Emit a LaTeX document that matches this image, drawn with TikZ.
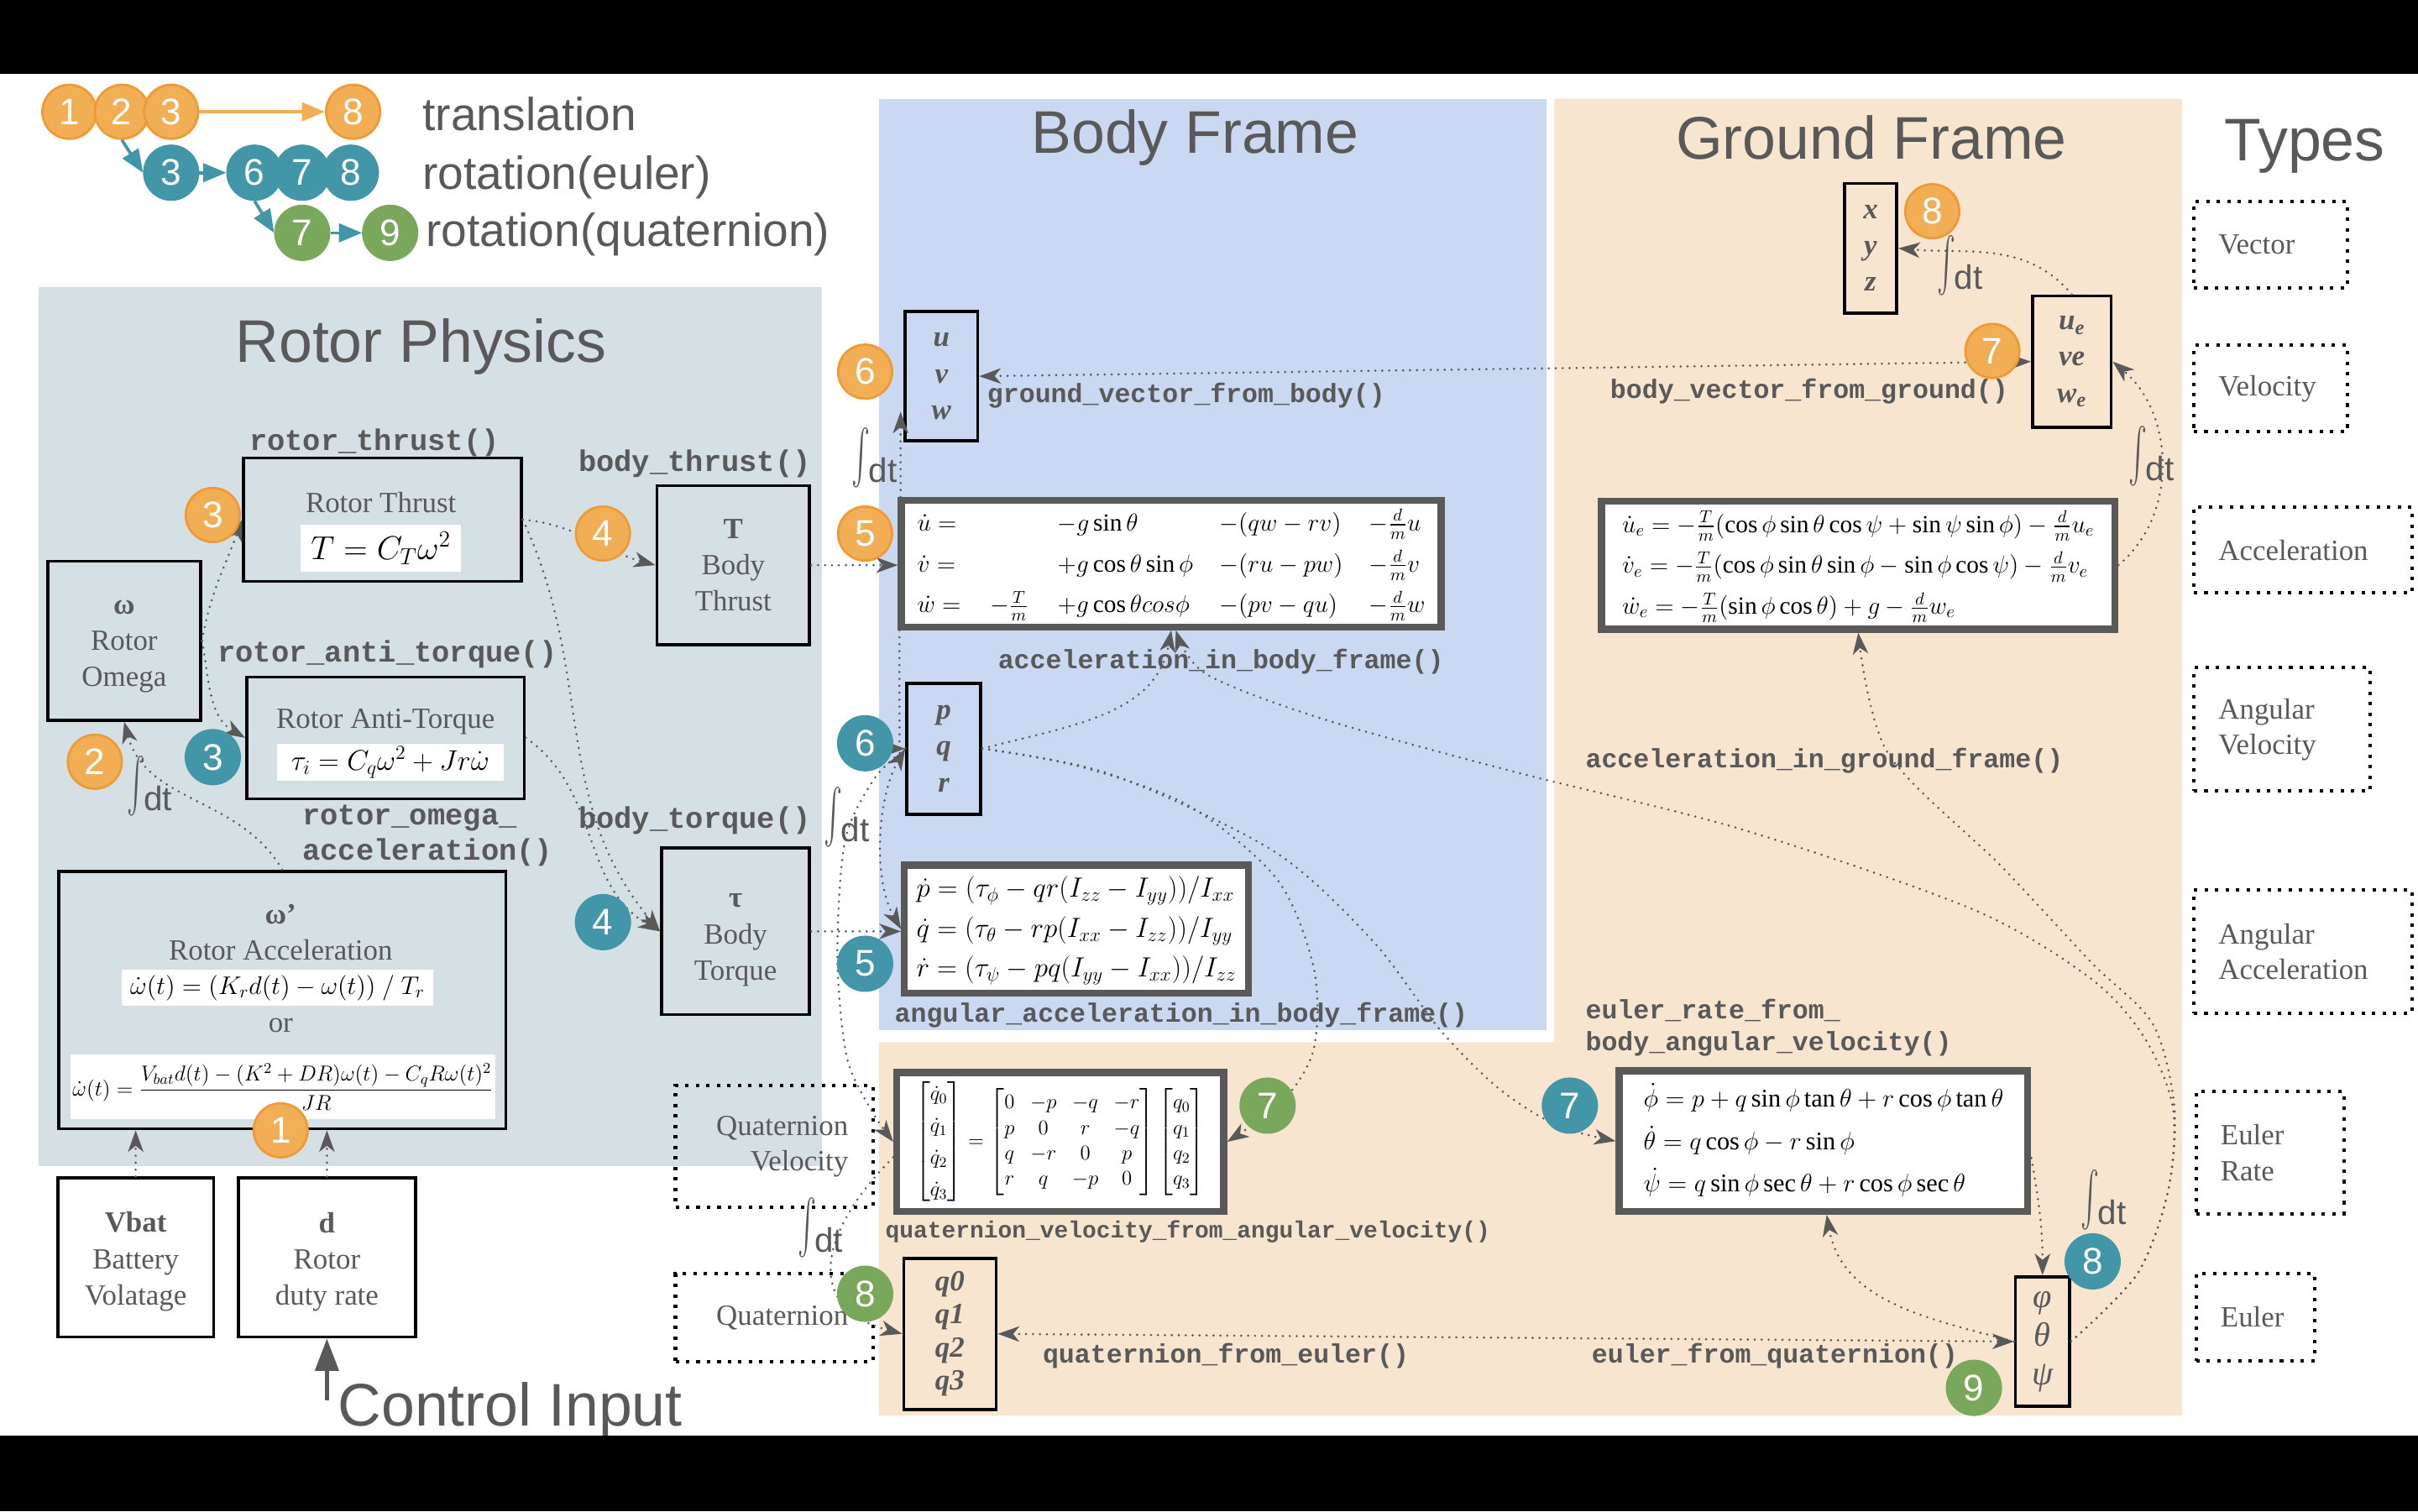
\RequirePackage{fix-cm}
\documentclass[tikz,border=0pt]{standalone}
\usepackage{amsmath}
\usepackage{fontspec}
\setmainfont{Liberation Serif}
\setsansfont{Liberation Sans}
\setmonofont{Liberation Mono}
\usetikzlibrary{arrows.meta}

\definecolor{txtgray}{HTML}{595959}
\definecolor{rotorbg}{HTML}{D5E0E4}
\definecolor{bodybg}{HTML}{CAD8F2}
\definecolor{groundbg}{HTML}{F8E5D0}
\definecolor{stepor}{HTML}{F2AE55}
\definecolor{stepordk}{HTML}{EE9A35}
\definecolor{steptl}{HTML}{4396A8}
\definecolor{stepgr}{HTML}{79A75B}

\newcommand{\intdt}{\raisebox{6.5pt}{\resizebox*{12pt}{39pt}{$\int$}}\kern-1pt dt}

\tikzset{
  title/.style={text=txtgray, font=\sffamily\fontsize{39}{44}\selectfont, anchor=base, inner sep=0},
  legendtxt/.style={text=txtgray, font=\sffamily\fontsize{30}{34}\selectfont, anchor=base west, inner sep=0},
  numo/.style={circle, minimum size=35pt, inner sep=0, fill=stepor, draw=stepordk, line width=1.5pt,
    text=white, font=\sffamily\fontsize{24}{24}\selectfont},
  numt/.style={numo, fill=steptl, draw=steptl},
  numg/.style={numo, fill=stepgr, draw=stepgr},
  blk/.style={draw=black, line width=2pt, text=txtgray, align=center, inner sep=0,
    font=\fontsize{19}{23.5}\selectfont},
  vecbox/.style={blk, font=\bfseries\itshape\fontsize{19}{23.5}\selectfont},
  eqbox/.style={draw=txtgray, line width=4.5pt, fill=white, inner sep=0},
  whiteeq/.style={fill=white, inner sep=0},
  srf/.style={text=txtgray, inner sep=0, font=\fontsize{19}{23}\selectfont},
  fn/.style={text=txtgray, anchor=base west, inner sep=0, font=\ttfamily\bfseries\fontsize{17.2}{20}\selectfont},
  fnbig/.style={fn, font=\ttfamily\bfseries\fontsize{19.3}{22}\selectfont},
  fnsmall/.style={fn, font=\ttfamily\bfseries\fontsize{15.2}{18}\selectfont},
  intg/.style={text=txtgray, inner sep=0, font=\sffamily\fontsize{22}{22}\selectfont},
  typebox/.style={draw=black, line width=2.2pt, dash pattern=on 2.2pt off 4.6pt, inner xsep=16pt,
    inner ysep=0, text=txtgray, font=\fontsize{19}{23}\selectfont},
  flow/.style={draw=txtgray, line width=1.6pt, dash pattern=on 0pt off 4.5pt, line cap=round,
    -{Stealth[length=14pt,width=10pt,inset=4pt]}},
  flowboth/.style={flow, {Stealth[length=14pt,width=10pt,inset=4pt]}-{Stealth[length=14pt,width=10pt,inset=4pt]}},
  legarrow/.style={line width=2pt, -{Triangle[length=15pt,width=12pt]}},
}

\begin{document}
\begin{tikzpicture}[x=1pt,y=-1pt]
  \useasboundingbox (0,0) rectangle (1568,980);
  \fill[white] (0,0) rectangle (1568,980);

  % panels
  \fill[rotorbg] (25,186) rectangle (533,756);
  \fill[bodybg] (570,64) rectangle (1003,668);
  \fill[groundbg] (1008,64) -- (1415,64) -- (1415,918) -- (570,918) -- (570,676) -- (1008,676) -- cycle;

  \node[title] (ttlrotor) at (273,235) {Rotor Physics};
  \node[title] (ttlbody) at (775,99.4) {Body Frame};
  \node[title] (ttlground) at (1213.5,103) {Ground Frame};
  \node[title] (ttltypes) at (1494.5,104) {Types};

  % legend
  \node[numo] (l1) at (45,72.5) {1};
  \node[numo] (l2) at (79,72.5) {2};
  \node[numo] (l3) at (111,72.5) {3};
  \node[numo] (l8) at (229,72.5) {8};
  \node[numt] (lt3) at (111,112) {3};
  \node[numt] (lt6) at (165,112) {6};
  \node[numt] (lt7) at (196,112) {7};
  \node[numt] (lt8) at (227.5,112) {8};
  \node[numg] (lg7) at (196,151) {7};
  \node[numg] (lg9) at (253,151) {9};
  \draw[legarrow, stepor] (l3) -- (l8);
  \draw[legarrow, steptl] (l2.south) -- (lt3.west);
  \draw[legarrow, steptl] (lt3) -- (lt6);
  \draw[legarrow, steptl] (lt6.south) -- (lg7.west);
  \draw[legarrow, steptl] (lg7) -- (lg9);
  \node[legendtxt] (lgtrans) at (274,84.4) {translation};
  \node[legendtxt] (lgeuler) at (274,122.5) {rotation(euler)};
  \node[legendtxt] (lgquat) at (276,159.6) {rotation(quaternion)};

  % types
  \node[typebox, minimum width=99.4pt, minimum height=56.3pt, text width=67.4pt, align=left] (tyvec) at (1472.3,158.7) {Vector};
  \node[typebox, minimum width=99.4pt, minimum height=56pt, text width=67.4pt, align=left] (tyvel) at (1472.3,252) {Velocity};
  \node[typebox, minimum width=141.4pt, minimum height=55.5pt, text width=109.4pt, align=left] (tyacc) at (1493.3,356.7) {Acceleration};
  \node[typebox, minimum width=114.4pt, minimum height=80pt, text width=82.4pt, align=left] (tyangv) at (1479.8,473) {Angular\\Velocity};
  \node[typebox, minimum width=141.4pt, minimum height=80pt, text width=109.4pt, align=left] (tyanga) at (1493.3,617) {Angular\\Acceleration};
  \node[typebox, minimum width=96pt, minimum height=79pt, text width=64pt, align=left] (tyeulr) at (1472,747.5) {Euler\\Rate};
  \node[typebox, minimum width=77pt, minimum height=56.5pt, text width=45pt, align=left] (tyeul) at (1462.5,854.2) {Euler};
  \node[typebox, minimum width=128pt, minimum height=79pt, text width=96pt, align=right] (tyqv) at (502,743.5) {Quaternion\\Velocity};
  \node[typebox, minimum width=128pt, minimum height=57pt, text width=96pt, align=right] (tyq) at (502,854.5) {Quaternion};

  % rotor physics
  \node[fnbig] (fthrust) at (161.5,292) {rotor\_thrust()};
  \node[blk, minimum width=180pt, minimum height=80pt] (thrust) at (248,337) {};
  \node[srf] (thrustlbl) at (247,326) {Rotor Thrust};
  \node[whiteeq, minimum width=104pt, minimum height=31pt, font=\fontsize{21.5}{24}\selectfont] (thrusteq) at (247,355.5) {$T = C_T\omega^2$};

  \node[blk, minimum width=99pt, minimum height=103pt] (omega) at (80.5,415.5) {\rule{0pt}{16.5pt}\textbf{ω}\\Rotor\\Omega};

  \node[fnbig] (fanti) at (141,429.4) {rotor\_anti\_torque()};
  \node[blk, minimum width=180pt, minimum height=79pt] (anti) at (250,478.5) {};
  \node[srf] (antilbl) at (250,468) {Rotor Anti-Torque};
  \node[whiteeq, minimum width=147pt, minimum height=24pt, font=\fontsize{18.5}{22}\selectfont] (antieq) at (253,494.5) {$\tau_i = C_q\omega^2 + Jr\dot\omega$};

  \node[fnbig] (fomacca) at (196,535) {rotor\_omega\_};
  \node[fnbig] (fomaccb) at (196,558) {acceleration()};
  \node[blk, minimum width=290pt, minimum height=167pt] (accbox) at (183,648.5) {};
  \node[srf, font=\bfseries\fontsize{19}{23}\selectfont] (accsym) at (182,593) {ω’};
  \node[srf] (acclbl) at (182,616) {Rotor Acceleration};
  \node[whiteeq, minimum width=202pt, minimum height=23pt, font=\fontsize{16.5}{20}\selectfont] (acceqa) at (180,640.5) {$\dot\omega(t) = (K_r d(t) - \omega(t))\ /\ T_r$};
  \node[srf] (accor) at (182,665) {or};
  \node[whiteeq, minimum width=275pt, minimum height=42pt, font=\fontsize{14}{17}\selectfont] (acceqb) at (183.5,705) {$\dot\omega(t) = \dfrac{V_{bat}d(t)-(K^2+DR)\omega(t)-C_qR\omega(t)^2}{JR}$};

  \node[fnbig] (fbthrust) at (375,305.5) {body\_thrust()};
  \node[blk, minimum width=99pt, minimum height=103pt] (bthrust) at (475.5,366.5) {\textbf{T}\\Body\\Thrust};
  \node[fnbig] (fbtorque) at (375,537) {body\_torque()};
  \node[blk, minimum width=96pt, minimum height=108pt] (btorque) at (477,604) {\rule{0pt}{20pt}\textbf{τ}\\Body\\Torque};

  \node[blk, minimum width=101pt, minimum height=103pt] (vbat) at (88,815.5) {\rule{0pt}{18.5pt}\textbf{Vbat}\\Battery\\Volatage};
  \node[blk, minimum width=115pt, minimum height=103pt] (dbox) at (212,815.5) {\rule{0pt}{19pt}\textbf{d}\\Rotor\\duty rate};
  \coordinate (ctrlin) at (212,908);
  \draw[line width=3pt, txtgray, -{Triangle[length=21pt,width=15pt]}] (ctrlin) -- (dbox.south);
  \node[title, anchor=base west] (ctrltxt) at (219,924.6) {Control Input};

  \node[intg] (intomega) at (97,510) {\intdt};

  % body frame
  \node[vecbox, minimum width=47pt, minimum height=84pt] (uvw) at (610.5,244) {u\\v\\w};
  \node[fn] (fgvb) at (640,261) {ground\_vector\_from\_body()};
  \node[intg] (intuvw) at (567,297) {\intdt};
  \node[eqbox, minimum width=350pt, minimum height=82pt, font=\fontsize{16}{26.5}\selectfont] (accb) at (759.5,365.5)
    {$\begin{array}{@{}l@{\hspace{19pt}}c@{\hspace{19pt}}l@{\hspace{17pt}}l@{\hspace{17pt}}l@{}}
      \dot u = & & -g\sin\theta & -(qw-rv) & -\frac{d}{m}u\\
      \dot v = & & +g\cos\theta\sin\phi & -(ru-pw) & -\frac{d}{m}v\\
      \dot w = & -\frac{T}{m} & +g\cos\theta cos\phi & -(pv-qu) & -\frac{d}{m}w
    \end{array}$};
  \node[fn] (faccb) at (647,433.6) {acceleration\_in\_body\_frame()};
  \node[vecbox, minimum width=48pt, minimum height=85pt] (pqr) at (612,485.5) {p\\q\\r};
  \node[intg] (intpqr) at (549,530) {\intdt};
  \node[eqbox, minimum width=223pt, minimum height=83pt, font=\fontsize{18}{26}\selectfont] (angacc) at (698,602.5)
    {$\begin{array}{@{}l@{}}
      \dot p = (\tau_\phi - qr(I_{zz}-I_{yy}))/I_{xx}\\
      \dot q = (\tau_\theta - rp(I_{xx}-I_{zz}))/I_{yy}\\
      \dot r = (\tau_\psi - pq(I_{yy}-I_{xx}))/I_{zz}
    \end{array}$};
  \node[fn] (fangacc) at (580,663) {angular\_acceleration\_in\_body\_frame()};

  % ground frame
  \node[vecbox, minimum width=34pt, minimum height=84pt] (xyz) at (1213,161) {x\\y\\z};
  \node[intg] (intxyz) at (1271,172) {\intdt};
  \node[vecbox, minimum width=51pt, minimum height=85pt] (ue) at (1343.5,234.5) {u\textsubscript{e}\\ve\\w\textsubscript{e}};
  \node[fn] (fbvg) at (1044,258.6) {body\_vector\_from\_ground()};
  \node[intg] (intue) at (1395,296) {\intdt};
  \node[eqbox, minimum width=333pt, minimum height=83pt, font=\fontsize{16}{26.5}\selectfont] (accg) at (1205,366.5)
    {$\begin{array}{@{}l@{}}
      \dot u_e = -\frac{T}{m}(\cos\phi\sin\theta\cos\psi+\sin\psi\sin\phi)-\frac{d}{m}u_e\\
      \dot v_e = -\frac{T}{m}(\cos\phi\sin\theta\sin\phi-\sin\phi\cos\psi)-\frac{d}{m}v_e\\
      \dot w_e = -\frac{T}{m}(\sin\phi\cos\theta)+g-\frac{d}{m}w_e
    \end{array}$};
  \node[fn] (faccg) at (1028,498) {acceleration\_in\_ground\_frame()};
  \node[fn] (feulera) at (1028,660.6) {euler\_rate\_from\_};
  \node[fn] (feulerb) at (1028,681.6) {body\_angular\_velocity()};
  \node[eqbox, minimum width=265pt, minimum height=91pt, font=\fontsize{16.5}{27.5}\selectfont] (eul) at (1182.5,740)
    {$\begin{array}{@{}l@{}}
      \dot\phi = p+q\sin\phi\tan\theta+r\cos\phi\tan\theta\\
      \dot\theta = q\cos\phi-r\sin\phi\\
      \dot\psi = q\sin\phi\sec\theta+r\cos\phi\sec\theta
    \end{array}$};
  \node[intg] (intang) at (1364,778) {\intdt};
  \node[blk, minimum width=35pt, minimum height=84pt, font=\itshape\fontsize{22}{25}\selectfont] (ang) at (1324.5,870) {φ\\θ\\ψ};
  \node[fn] (fefq) at (1032,883.8) {euler\_from\_quaternion()};
  \node[fn] (fqfe) at (676,883.8) {quaternion\_from\_euler()};
  \node[vecbox, minimum width=60pt, minimum height=98pt, font=\bfseries\itshape\fontsize{19}{21.5}\selectfont] (q) at (616,865) {q0\\q1\\q2\\q3};
  \node[intg] (intq) at (532,796) {\intdt};
  \node[eqbox, minimum width=212pt, minimum height=90pt, font=\fontsize{13.5}{16.5}\selectfont] (qvel) at (687.5,740.5)
    {$\renewcommand\arraystretch{1.25}\begin{bmatrix}\dot q_0\\\dot q_1\\\dot q_2\\\dot q_3\end{bmatrix}\renewcommand\arraystretch{1}
      = \begin{bmatrix}0&-p&-q&-r\\p&0&r&-q\\q&-r&0&p\\r&q&-p&0\end{bmatrix}
      \begin{bmatrix}q_0\\q_1\\q_2\\q_3\end{bmatrix}$};
  \node[fnsmall] (fqvel) at (574,803) {quaternion\_velocity\_from\_angular\_velocity()};

  % connectors
  \draw[flow] (vbat.north) -- (vbat.north |- accbox.south);
  \draw[flow] (dbox.north) -- (dbox.north |- accbox.south);
  \draw[flow] (accbox.north) to[out=120,in=-75] (omega.south);
  \draw[flow] (omega.east) to[out=80,in=-110] (thrust.west);
  \draw[flow] (omega.east) to[out=-80,in=150] (anti.west);
  \draw[flow] (thrust.east) to[out=-5,in=165] (bthrust.west);
  \draw[flow] (thrust.east) to[out=-65,in=130] (btorque.west);
  \draw[flow] (anti.east) to[out=-35,in=150] (btorque.west);
  \draw[flow] (bthrust.east) -- (bthrust.east -| accb.west);
  \draw[flow] (btorque.east) -- (btorque.east -| angacc.west);
  \draw[flow] ([xshift=-2pt]accb.north west -| uvw.south west) -- ([xshift=-2pt,yshift=20pt]uvw.south west);
  \draw[flow] ([xshift=1pt]accb.south west) |- (pqr.west);
  \draw[flowboth] (pqr.west) to[out=-120,in=120,looseness=0.8] (angacc.west);
  \draw[flow] plot[smooth] coordinates {(pqr.west) (567,505) (548,545) (543,620) (549,685) (565,720) (qvel.west)};
  \draw[flow] ([yshift=-10pt]qvel.west) to[out=225,in=165,looseness=1.5] (q.west);
  \draw[flow] (pqr.east) to[out=15,in=-100] (accb.south);
  \draw[flow] plot[smooth] coordinates {(pqr.east) (700,497) (770,522) (828,570) (852,628) (852,680) (832,714) (qvel.east)};
  \draw[flow] plot[smooth] coordinates {(pqr.east) (720,502) (826,552) (890,610) (934,668) (972,706) (1010,730) (eul.west)};
  \draw[flowboth] (uvw.east) -- (ue.west);
  \draw[flow] (accg.east) to[out=40,in=-40] (ue.east);
  \draw[flow] (ue.north) to[out=130,in=-5] (xyz.east);
  \draw[flow] plot[smooth] coordinates {(ang.east) (1386,826) (1406,772) (1409,718) (1390,672) (1355,634) (1280,590) (1130,538) (980,500) (857,466) (782,437) ([xshift=3pt]accb.south)};
  \draw[flow] plot[smooth] coordinates {(ang.east) (1386,826) (1406,772) (1410,718) (1396,664) (1356,624) (1298,562) (1224,488) (accg.south)};
  \draw[flow] ([yshift=-11pt]eul.east) to[out=-80,in=90] (ang.north);
  \draw[flow] (ang.west) to[out=165,in=-80] ([xshift=2pt]eul.south);
  \draw[flowboth] (q.east) -- (ang.west);

  % step numbers
  \node[numo] (o1) at (182,733) {1};
  \node[numo] (o2) at (61.5,494) {2};
  \node[numo] (o3) at (138,334) {3};
  \node[numt] (t3) at (138,491) {3};
  \node[numo] (o4) at (391,346) {4};
  \node[numt] (t4) at (391,598) {4};
  \node[numo] (o5) at (561,346) {5};
  \node[numt] (t5) at (561,625) {5};
  \node[numo] (o6) at (561,241) {6};
  \node[numt] (t6) at (561,482) {6};
  \node[numo] (o7) at (1292,227.6) {7};
  \node[numt] (t7) at (1018,717) {7};
  \node[numg] (g7) at (822,717) {7};
  \node[numo] (o8) at (1253,137) {8};
  \node[numt] (t8) at (1357,818) {8};
  \node[numg] (g8) at (561,839) {8};
  \node[numg] (g9) at (1280,900) {9};

  % black bars
  \fill[black] (0,0) rectangle (1568,48);
  \fill[black] (0,931) rectangle (1568,980);
\end{tikzpicture}
\end{document}
